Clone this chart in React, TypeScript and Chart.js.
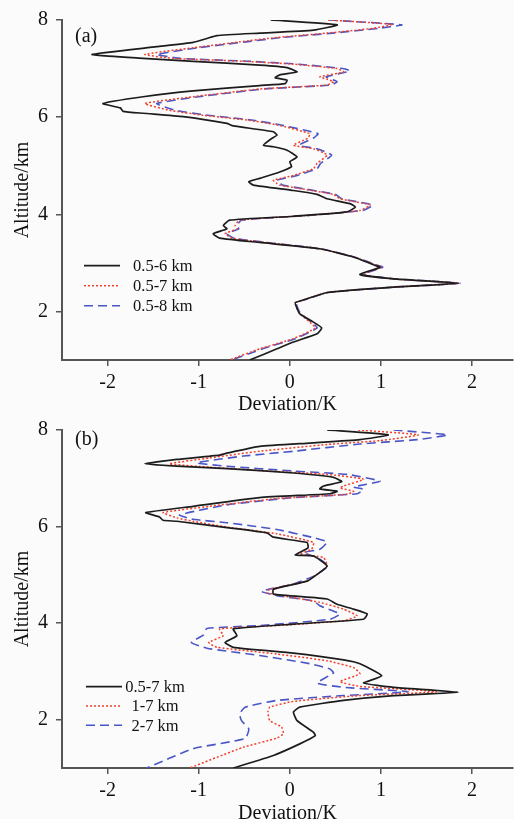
import React, { useEffect, useRef } from "react";
import { Chart, registerables } from "chart.js";

Chart.register(...registerables);

// ---------- axis ticks ----------
const xTickValues = [-2, -1, 0, 1, 2];
const yTickValues = [2, 4, 6, 8];
const xMin = -2.5;
const xMax = 2.45;
const yMin = 1;
const yMax = 8;

// ---------- panel (a) ----------
const seriesLabelsA = ["0.5-6 km", "0.5-7 km", "0.5-8 km"];

const altA1 = [8.0, 7.9, 7.79, 7.73, 7.68, 7.62, 7.54, 7.45, 7.29, 7.21, 7.15, 7.07, 7.02, 6.93, 6.87, 6.81, 6.76, 6.69, 6.65, 6.54, 6.42, 6.28, 6.19, 6.12, 6.08, 6.01, 5.87, 5.82, 5.7, 5.63, 5.56, 5.42, 5.39, 5.32, 5.18, 5.08, 4.98, 4.87, 4.74, 4.67, 4.6, 4.49, 4.41, 4.32, 4.22, 4.15, 4.05, 3.96, 3.88, 3.77, 3.7, 3.6, 3.51, 3.42, 3.29, 3.12, 2.96, 2.91, 2.76, 2.67, 2.58, 2.5, 2.39, 2.26, 2.18, 2.06, 1.95, 1.78, 1.66, 1.54, 1.37, 1.23, 1.0];
const devA1 = [-0.21, 0.52, 0.26, -0.33, -0.8, -0.91, -1.06, -1.46, -2.17, -1.61, -1.06, -0.33, -0.03, 0.08, -0.11, -0.16, -0.03, -0.05, -0.33, -1.06, -1.61, -2.05, -1.86, -1.83, -1.61, -1.17, -0.69, -0.62, -0.18, -0.14, -0.2, -0.29, -0.18, -0.03, 0.08, 0.0, 0.02, -0.11, -0.33, -0.45, -0.4, 0.04, 0.3, 0.41, 0.66, 0.72, 0.63, 0.04, -0.66, -0.73, -0.69, -0.84, -0.77, -0.33, 0.33, 0.7, 0.92, 0.99, 0.77, 1.14, 1.85, 1.14, 0.41, 0.19, 0.06, 0.08, 0.11, 0.26, 0.35, 0.3, 0.04, -0.14, -0.44];

const altA2 = [8.0, 7.91, 7.83, 7.73, 7.64, 7.55, 7.43, 7.29, 7.21, 7.15, 7.09, 7.0, 6.93, 6.83, 6.78, 6.73, 6.66, 6.58, 6.42, 6.28, 6.14, 6.04, 5.94, 5.84, 5.66, 5.57, 5.42, 5.35, 5.22, 5.05, 4.94, 4.8, 4.7, 4.63, 4.6, 4.41, 4.32, 4.19, 4.08, 3.98, 3.88, 3.77, 3.7, 3.6, 3.5, 3.29, 3.12, 2.96, 2.91, 2.76, 2.67, 2.58, 2.5, 2.39, 2.26, 2.18, 2.06, 1.95, 1.78, 1.66, 1.44, 1.23, 1.0];
const devA2 = [0.42, 1.12, 0.92, 0.41, -0.14, -0.55, -1.06, -1.59, -1.28, -0.51, 0.04, 0.52, 0.59, 0.33, 0.41, 0.48, 0.41, -0.33, -1.06, -1.59, -1.32, -0.95, -0.47, -0.14, 0.22, 0.2, 0.04, 0.26, 0.41, 0.3, 0.26, 0.04, -0.18, -0.14, -0.11, 0.48, 0.55, 0.88, 0.77, 0.22, -0.55, -0.6, -0.58, -0.71, -0.62, 0.33, 0.7, 0.94, 1.01, 0.79, 1.14, 1.85, 1.14, 0.41, 0.19, 0.06, 0.08, 0.11, 0.22, 0.28, 0.04, -0.33, -0.66];

const altA3 = [8.0, 7.9, 7.83, 7.73, 7.64, 7.55, 7.43, 7.29, 7.21, 7.15, 7.09, 7.0, 6.95, 6.83, 6.78, 6.73, 6.66, 6.58, 6.42, 6.28, 6.14, 6.04, 5.94, 5.84, 5.66, 5.57, 5.42, 5.35, 5.22, 5.05, 4.94, 4.8, 4.7, 4.63, 4.6, 4.41, 4.32, 4.19, 4.08, 3.98, 3.88, 3.77, 3.7, 3.6, 3.5, 3.29, 3.12, 2.96, 2.91, 2.76, 2.67, 2.58, 2.5, 2.39, 2.26, 2.18, 2.06, 1.95, 1.78, 1.66, 1.44, 1.23, 1.0];
const devA3 = [0.43, 1.23, 0.98, 0.47, -0.08, -0.48, -1.0, -1.46, -1.2, -0.45, 0.1, 0.58, 0.66, 0.4, 0.46, 0.52, 0.45, -0.28, -1.0, -1.46, -1.25, -0.9, -0.42, -0.1, 0.31, 0.26, 0.1, 0.3, 0.46, 0.34, 0.3, 0.08, -0.14, -0.1, -0.08, 0.5, 0.57, 0.91, 0.8, 0.24, -0.53, -0.58, -0.56, -0.69, -0.6, 0.34, 0.71, 0.95, 1.02, 0.8, 1.15, 1.87, 1.15, 0.42, 0.2, 0.07, 0.09, 0.12, 0.24, 0.3, 0.06, -0.3, -0.64];

// ---------- panel (b) ----------
const seriesLabelsB = ["0.5-7 km", "1-7 km", "2-7 km"];

const altB1 = [8.0, 7.9, 7.8, 7.73, 7.66, 7.52, 7.48, 7.39, 7.3, 7.25, 7.2, 7.11, 7.02, 6.93, 6.84, 6.78, 6.73, 6.68, 6.6, 6.42, 6.29, 6.2, 6.13, 6.11, 5.98, 5.87, 5.78, 5.67, 5.56, 5.41, 5.39, 5.18, 5.01, 4.87, 4.7, 4.6, 4.5, 4.39, 4.29, 4.19, 4.08, 3.98, 3.88, 3.74, 3.6, 3.5, 3.38, 3.24, 3.16, 2.91, 2.76, 2.67, 2.57, 2.5, 2.4, 2.26, 2.16, 1.98, 1.74, 1.67, 1.5, 1.26, 1.0];
const devB1 = [0.41, 1.08, 0.77, 0.22, -0.33, -0.69, -0.77, -1.24, -1.59, -1.24, -0.69, 0.04, 0.48, 0.57, 0.37, 0.33, 0.52, 0.44, -0.33, -1.06, -1.58, -1.43, -1.39, -1.24, -0.69, -0.25, -0.18, 0.19, 0.2, 0.06, 0.26, 0.41, 0.3, 0.19, -0.18, -0.18, 0.41, 0.52, 0.7, 0.85, 0.81, 0.04, -0.62, -0.58, -0.71, -0.62, 0.04, 0.59, 0.77, 1.01, 0.81, 1.14, 1.85, 1.14, 0.59, 0.11, 0.04, 0.08, 0.26, 0.28, 0.11, -0.18, -0.62];

const altB2 = [8.0, 7.9, 7.78, 7.7, 7.56, 7.42, 7.3, 7.23, 7.16, 7.08, 6.98, 6.84, 6.8, 6.73, 6.67, 6.58, 6.42, 6.29, 6.18, 6.11, 5.99, 5.85, 5.67, 5.53, 5.43, 5.36, 5.18, 5.01, 4.87, 4.7, 4.63, 4.43, 4.29, 4.15, 4.05, 3.95, 3.88, 3.74, 3.6, 3.5, 3.36, 3.22, 3.08, 2.95, 2.79, 2.69, 2.58, 2.5, 2.38, 2.26, 2.16, 1.98, 1.85, 1.71, 1.62, 1.43, 1.0];
const devB2 = [0.75, 1.41, 0.99, 0.41, -0.33, -0.88, -1.32, -0.88, -0.33, 0.41, 0.81, 0.59, 0.55, 0.7, 0.63, -0.14, -0.88, -1.39, -1.24, -1.06, -0.69, -0.14, 0.26, 0.24, 0.11, 0.37, 0.41, 0.3, 0.18, -0.22, -0.25, 0.33, 0.59, 0.74, 0.59, -0.14, -0.77, -0.73, -0.89, -0.8, -0.14, 0.41, 0.7, 0.77, 0.55, 0.77, 1.61, 0.77, 0.04, -0.22, -0.24, -0.22, -0.09, -0.07, -0.14, -0.51, -1.1];

const altB3 = [8.0, 7.9, 7.8, 7.71, 7.56, 7.46, 7.32, 7.25, 7.15, 7.08, 6.94, 6.82, 6.77, 6.68, 6.6, 6.45, 6.24, 6.15, 6.08, 5.94, 5.77, 5.68, 5.53, 5.46, 5.36, 5.18, 4.99, 4.81, 4.66, 4.57, 4.46, 4.36, 4.19, 4.08, 3.95, 3.89, 3.75, 3.6, 3.48, 3.33, 3.16, 3.05, 2.97, 2.76, 2.67, 2.58, 2.5, 2.4, 2.26, 2.12, 1.98, 1.81, 1.61, 1.4, 1.0];
const devB3 = [1.14, 1.73, 1.4, 0.77, 0.04, -0.51, -1.02, -0.69, 0.04, 0.63, 0.99, 0.7, 0.81, 0.74, 0.04, -0.69, -1.21, -1.06, -0.69, -0.14, 0.26, 0.41, 0.33, 0.15, 0.3, 0.42, 0.28, 0.04, -0.31, -0.14, 0.26, 0.33, 0.55, 0.44, -0.33, -0.91, -0.95, -1.08, -0.91, -0.33, 0.22, 0.44, 0.48, 0.3, 0.59, 1.3, 0.59, -0.14, -0.49, -0.55, -0.53, -0.45, -0.49, -1.06, -1.57];

// ---------- styling ----------
const FONT = "'Liberation Serif', 'Times New Roman', serif";
const lineStyles = [
  { color: "#1c1c1c", width: 1.7, dash: [] as number[] },
  { color: "#f2402a", width: 1.5, dash: [2, 2] },
  { color: "#4a56c6", width: 1.6, dash: [9, 5] },
];

const toPoints = (alt: number[], dev: number[]) => alt.map((a, i) => ({ x: dev[i], y: a }));

const insetLegend = {
  id: "insetLegend",
  afterDraw(chart: any, _args: any, opts: any) {
    const { ctx, chartArea } = chart;
    ctx.save();
    chart.data.datasets.forEach((ds: any, i: number) => {
      const y = chartArea.bottom - opts.bottom + i * opts.gap;
      ctx.strokeStyle = ds.borderColor;
      ctx.lineWidth = ds.borderWidth;
      ctx.setLineDash(ds.borderDash || []);
      ctx.beginPath();
      ctx.moveTo(chartArea.left + opts.x0, y);
      ctx.lineTo(chartArea.left + opts.x1, y);
      ctx.stroke();
      ctx.setLineDash([]);
      ctx.fillStyle = "#111";
      ctx.font = `16.5px ${FONT}`;
      ctx.textAlign = opts.align;
      ctx.textBaseline = "middle";
      ctx.fillText(ds.label, chartArea.left + opts.tx, y + 1);
    });
    // panel tag
    ctx.font = `20px ${FONT}`;
    ctx.textAlign = "left";
    ctx.textBaseline = "middle";
    ctx.fillStyle = "#111";
    ctx.fillText(opts.tag, chartArea.left + 13, chartArea.top + opts.tagDy);
    ctx.restore();
  },
};

type PanelProps = {
  series: { alt: number[]; dev: number[] }[];
  labels: string[];
  height: number;
  padTop: number;
  xHeight: number;
  legend: any;
};

function Panel({ series, labels, height, padTop, xHeight, legend }: PanelProps) {
  const ref = useRef<HTMLCanvasElement | null>(null);
  useEffect(() => {
    if (!ref.current) return;
    const tickFont = { family: FONT, size: 20 };
    const chart = new Chart(ref.current, {
      type: "scatter",
      data: {
        datasets: series.map((s, i) => ({
          label: labels[i],
          data: toPoints(s.alt, s.dev),
          showLine: true,
          borderColor: lineStyles[i].color,
          backgroundColor: lineStyles[i].color,
          borderWidth: lineStyles[i].width,
          borderDash: lineStyles[i].dash,
          pointRadius: 0,
          tension: 0.15,
          fill: false,
        })),
      },
      options: {
        animation: false,
        responsive: false,
        devicePixelRatio: 1,
        layout: { padding: { top: padTop, right: 1, left: 0, bottom: 0 } },
        plugins: {
          legend: { display: false },
          tooltip: { enabled: false },
          insetLegend: legend,
        } as any,
        scales: {
          x: {
            type: "linear",
            position: "bottom",
            min: xMin,
            max: xMax,
            afterBuildTicks: (s: any) => {
              s.ticks = xTickValues.map((v) => ({ value: v }));
            },
            afterFit: (s: any) => {
              s.height = xHeight;
            },
            grid: { drawOnChartArea: false, drawTicks: true, tickLength: 6, color: "#555", lineWidth: 1.5 },
            border: { display: true, color: "#555", width: 2 },
            ticks: { font: tickFont, color: "#111", padding: 5, maxRotation: 0, autoSkip: false, callback: (v: any) => String(v) },
            title: { display: true, text: "Deviation/K", color: "#111", font: { family: FONT, size: 20, lineHeight: 0.8 }, padding: { top: 0, bottom: -3 } },
          },
          y: {
            type: "linear",
            min: yMin,
            max: yMax,
            afterBuildTicks: (s: any) => {
              s.ticks = yTickValues.map((v) => ({ value: v }));
            },
            afterFit: (s: any) => {
              s.width = 62;
            },
            grid: { drawOnChartArea: false, drawTicks: true, tickLength: 6, color: "#555", lineWidth: 1.5 },
            border: { display: true, color: "#555", width: 2 },
            ticks: { font: tickFont, color: "#111", padding: 8, autoSkip: false, callback: (v: any) => String(v) },
            title: { display: true, text: "Altitude/km", color: "#111", font: { family: FONT, size: 20, lineHeight: 0.8 }, padding: { top: 15, bottom: 0 } },
          },
        },
      },
      plugins: [insetLegend as any],
    } as any);
    return () => chart.destroy();
  }, []);
  return <canvas ref={ref} width={514} height={height} style={{ display: "block", width: 514, height }} />;
}

export default function App() {
  return (
    <div style={{ position: "absolute", left: 0, top: 0, width: 514, height: 819, background: "#fbfbfb", overflow: "hidden" }}>
      <Panel
        series={[
          { alt: altA1, dev: devA1 },
          { alt: altA2, dev: devA2 },
          { alt: altA3, dev: devA3 },
        ]}
        labels={seriesLabelsA}
        height={410}
        padTop={20}
        xHeight={50}
        legend={{ bottom: 94.3, gap: 20, x0: 22, x1: 58, tx: 71, align: "left", tag: "(a)", tagDy: 16.5 }}
      />
      <Panel
        series={[
          { alt: altB1, dev: devB1 },
          { alt: altB2, dev: devB2 },
          { alt: altB3, dev: devB3 },
        ]}
        labels={seriesLabelsB}
        height={409}
        padTop={18.7}
        xHeight={51}
        legend={{ bottom: 81.3, gap: 19.3, x0: 24, x1: 60, tx: 93, align: "center", tag: "(b)", tagDy: 10 }}
      />
    </div>
  );
}
